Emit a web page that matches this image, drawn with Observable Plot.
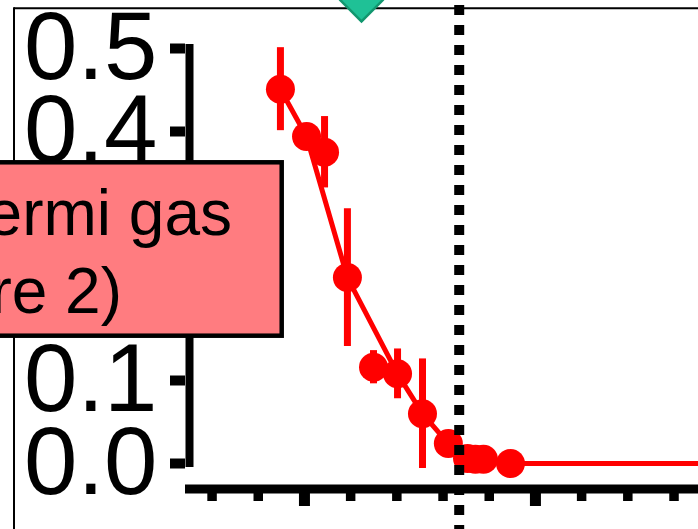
<!DOCTYPE html>
<html><head><meta charset="utf-8">
<script src="https://cdn.jsdelivr.net/npm/d3@7"></script>
<script src="https://cdn.jsdelivr.net/npm/@observablehq/plot@0.6"></script>
<style>
html,body{margin:0;padding:0;background:#fff;}
#wrap{position:relative;width:698px;height:529px;overflow:hidden;background:#fff;}
#wrap svg{position:absolute;left:0;top:0;}
</style></head><body><div id="wrap"></div>
<script>
// Main series (connected by line)
const lineT   = [0.0896, 0.1009, 0.1186, 0.1403, 0.1511, 0.1623, 0.1706, 0.1740, 0.1775, 0.1892, 0.30];
const lineF   = [0.451,  0.394,  0.224,  0.108,  0.060,  0.024,  0.006,  0.005,  0.005,  0.000,  0.000];
const lineErr = [0.050,  0.015,  0.083,  0.030,  0.066,  0.010,  0.005,  0.005,  0.005,  0.003,  0];
// Extra points (not on line)
const extraT   = [0.1087, 0.1299];
const extraF   = [0.375,  0.116];
const extraErr = [0.043,  0.020];
// Critical value (dotted line)
const Tc = 0.167;
// Marker at top
const markerT = [0.1247];
const markerF = [0.558];
// Ticks
const yTicks = [0, 0.1, 0.2, 0.3, 0.4, 0.5];
const xMinorTicks = [0.06, 0.08, 0.12, 0.14, 0.16, 0.18, 0.22, 0.24, 0.26];
const xMajorTicks = [0.1, 0.2];
const xDomain = [0.0485, 0.2706];
const yDomain = [0, 0.5];
// Annotation text
const boxLines = ["Ideal Fermi gas", "(Figure 2)"];

const RED = "#ff0000";
const mainData = lineT.map((t, i) => ({T: t, F: lineF[i], e: lineErr[i]}));
const extraData = extraT.map((t, i) => ({T: t, F: extraF[i], e: extraErr[i]}));
const visibleData = mainData.filter(d => d.T <= xDomain[1]).concat(extraData);
const markerData = markerT.map((t, i) => ({T: t, F: markerF[i]}));

const W = 698, H = 529;
const wrap = document.getElementById("wrap");
const NS = "http://www.w3.org/2000/svg";

// bottom layer: panel border
const bg = document.createElementNS(NS, "svg");
bg.setAttribute("width", W); bg.setAttribute("height", H);
bg.innerHTML = `<line x1="14" y1="8.3" x2="${W}" y2="8.3" stroke="#000" stroke-width="2"/>
<line x1="14" y1="7.3" x2="14" y2="${H}" stroke="#000" stroke-width="2"/>`;
wrap.appendChild(bg);

const chart = Plot.plot({
  width: W, height: H,
  marginLeft: 185, marginRight: 0, marginTop: 48, marginBottom: 66,
  x: {domain: xDomain},
  y: {domain: yDomain},
  style: {fontFamily: "'Liberation Sans', Arial, sans-serif", background: "transparent", color: "#000"},
  marks: [
    Plot.ruleY([0], {dy: 25.5, strokeWidth: 9, stroke: "#000"}),
    Plot.axisX(xMinorTicks, {tickSize: 12, strokeWidth: 9.5, dy: 26, tickFormat: () => "", label: null}),
    Plot.axisX(xMajorTicks, {tickSize: 17, strokeWidth: 11, dy: 26, tickFormat: () => "", label: null}),
    Plot.ruleX([xDomain[0]], {y1: yDomain[0], y2: yDomain[1], dx: 4, strokeWidth: 8, strokeLinecap: "square", stroke: "#000"}),
    Plot.axisY(yTicks, {tickSize: 15, strokeWidth: 10, tickPadding: 13, fontSize: 96, tickFormat: d3.format(".1f"), label: null}),
    Plot.line(mainData, {x: "T", y: "F", stroke: RED, strokeWidth: 5}),
    Plot.ruleX(visibleData, {x: "T", y1: d => d.F - d.e, y2: d => d.F + d.e, stroke: RED, strokeWidth: 7}),
    Plot.dot(visibleData, {x: "T", y: "F", r: 14.5, fill: RED}),
    Plot.ruleX([Tc], {y1: 0.5759, y2: -0.1, stroke: "#000", strokeWidth: 10, strokeDasharray: "10,10"}),
    Plot.dot(markerData, {x: "T", y: "F", symbol: "diamond2", r: 19, fill: "#1fc196", stroke: "#12976f", strokeWidth: 2.5})
  ]
});
wrap.appendChild(chart);

// top layer: annotation box
const fg = document.createElementNS(NS, "svg");
fg.setAttribute("width", W); fg.setAttribute("height", H);
fg.innerHTML = `<rect x="-10" y="162.3" width="291.7" height="173.4" fill="#ff7c80" stroke="#000" stroke-width="4.5"/>
<g font-family="'Liberation Sans', Arial, sans-serif" font-size="64" fill="#000" text-anchor="end">
<text x="232" y="235">${boxLines[0]}</text>
<text x="122" y="313">${boxLines[1]}</text>
</g>`;
wrap.appendChild(fg);
</script>
</body></html>
